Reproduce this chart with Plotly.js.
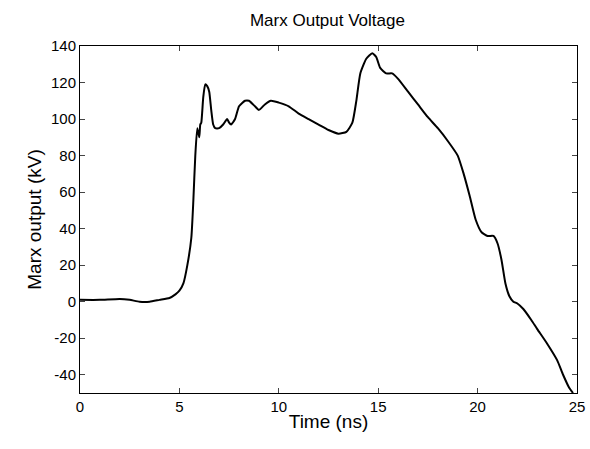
<!DOCTYPE html><html><head><script src="https://cdn.plot.ly/plotly-3.0.1.min.js"></script></head><body style="margin:0">
<div id="c" style="width:590px;height:449px"></div>
<script>
const timeNs=[0,1,2,2.5,3,3.5,4,4.5,4.8,5,5.2,5.4,5.6,5.7,5.8,5.9,6.0,6.05,6.1,6.2,6.3,6.4,6.5,6.6,6.7,6.8,7.0,7.2,7.4,7.5,7.6,7.8,8.0,8.3,8.5,8.8,9.0,9.3,9.6,10,10.5,11,11.5,12,12.5,13,13.4,13.7,13.9,14.1,14.4,14.7,14.9,15.1,15.4,15.7,16,16.5,17,17.5,18,18.5,19,19.3,19.6,19.9,20.2,20.5,20.8,21,21.2,21.4,21.6,21.8,22,22.3,22.7,23,23.5,24,24.3,24.6,24.8];
const voltageKV=[1,1,1.5,1,0,0,1,2,4,6,10,20,35,55,80,95,90,97,98,112,119,118,115,105,97,95,95,97,100,98,97,100,107,110,110,107,105,108,110,109,107,103,100,97,94,92,93,98,110,125,133,136,134,128,125,125,122,115,108,101,95,88,80,70,58,45,38,36,36,32,23,10,3,0,-1,-4,-10,-15,-23,-32,-40,-47,-50];
const yTicks=[-40,-20,0,20,40,60,80,100,120,140];
const ax={showgrid:false,zeroline:false,showline:true,mirror:'ticks',ticks:'inside',ticklen:5,linecolor:'#000',linewidth:1,tickfont:{size:15}};
Plotly.newPlot('c',[{x:timeNs,y:voltageKV,mode:'lines',line:{color:'#000',width:2,shape:'spline',smoothing:0.5}}],{
width:590,height:449,margin:{l:80,r:13,t:46,b:56},
font:{family:'Liberation Sans, Arial',color:'#000'},
title:{text:'Marx Output Voltage',font:{size:17},x:0.555,y:0.968,yanchor:'top'},
xaxis:Object.assign({},ax,{range:[0,25],dtick:5,title:{text:'Time (ns)',font:{size:19},standoff:0}}),
yaxis:Object.assign({},ax,{range:[-50,140],tickvals:yTicks,ticktext:yTicks.map(String),title:{text:'Marx output (kV)',font:{size:19},standoff:4}}),
showlegend:false,plot_bgcolor:'#fff',paper_bgcolor:'#fff'},{staticPlot:true});
</script></body></html>
